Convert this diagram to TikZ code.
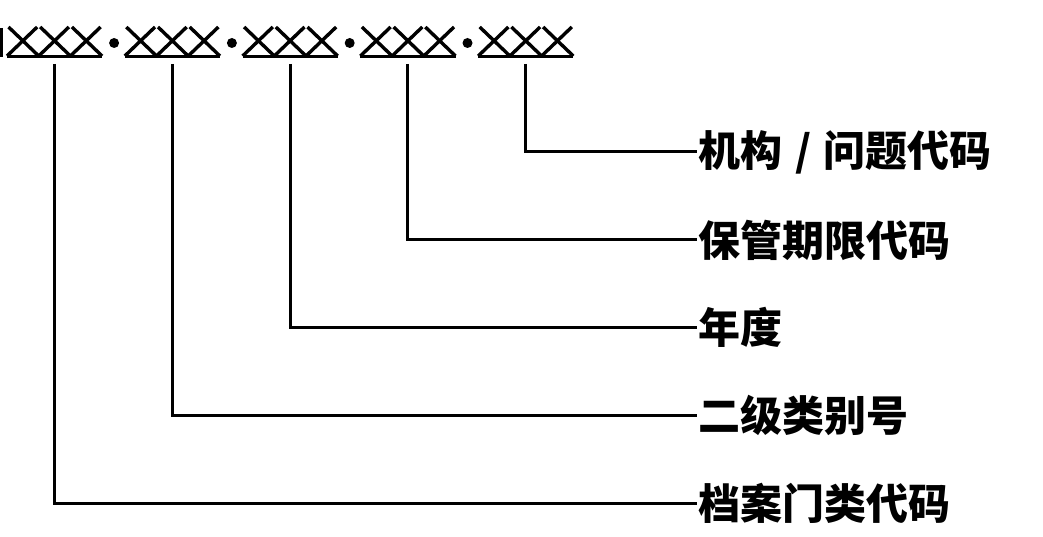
\documentclass[tikz,border=0pt]{standalone}
\usepackage{fontspec}
\newfontfamily\cjk{Noto Sans CJK SC}
\tikzset{codetext/.style={anchor=west, inner sep=0pt, font=\cjk\bfseries\fontsize{42}{42}\selectfont}}
\begin{document}
\begin{tikzpicture}[x=1pt, y=-1pt, line width=3pt]
\useasboundingbox (0,0) rectangle (1043,537);
\pgfmathsetmacro{\w}{31.7};
\pgfmathsetmacro{\d}{117.8};
% cut-off mark at the left edge
\draw[line width=3.5pt] (1.5,28) -- (1.5,57);
% the five groups XXX, underlined
\foreach \i in {0,...,4}{
  \pgfmathsetmacro{\xo}{7+\i*\d}
  \draw[line width=3.8pt] ({\xo},56.5) -- ({\xo+3*\w},56.5);
  \foreach \j in {0,1,2}{
    \draw[line width=3.4pt] ({\xo+\j*\w+1.5},27) -- ({\xo+(\j+1)*\w},56);
    \draw[line width=3.4pt] ({\xo+(\j+1)*\w-1.5},27) -- ({\xo+\j*\w},56);
  }
  \coordinate (g\i) at ({\xo+1.5*\w},64);
}
\foreach \i in {0,...,3} \fill ({7+\i*\d+3*\w+12},43) circle (5);
% labels
\node[codetext] (jg) at (697,152) {机构\hspace{0.3em}/\hspace{0.3em}问题代码};
\node[codetext] (bg) at (697,240) {保管期限代码};
\node[codetext] (nd) at (697,327) {年度};
\node[codetext] (ej) at (697,415) {二级类别号};
\node[codetext] (da) at (697,503) {档案门类代码};
\draw (g4) |- (jg.west);
\draw (g3) |- (bg.west);
\draw (g2) |- (nd.west);
\draw (g1) |- (ej.west);
\draw (g0) |- (da.west);
\end{tikzpicture}
\end{document}
